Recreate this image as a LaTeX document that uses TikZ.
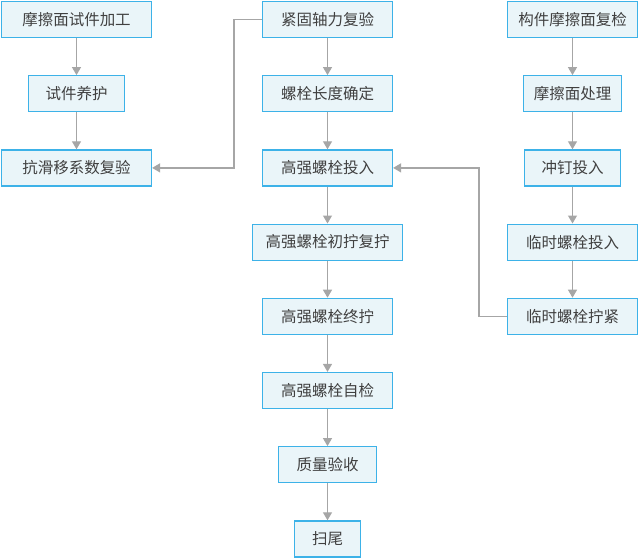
\documentclass[tikz,border=0pt]{standalone}
\usepackage{fontspec}
\newfontfamily\cjk{Noto Sans CJK SC}
\usetikzlibrary{positioning,arrows.meta}
\definecolor{boxfill}{HTML}{EAF5F9}
\definecolor{boxline}{HTML}{3DB2E8}
\definecolor{linkgray}{HTML}{A6A6A6}
\definecolor{textgray}{HTML}{404040}
\begin{document}
\begin{tikzpicture}[x=1pt,y=1pt,node distance=37pt,
  every node/.style={font=\cjk\fontsize{15.5}{18}\selectfont},
  stepbox/.style={draw=boxline,fill=boxfill,line width=1.2pt,minimum height=36pt,inner sep=0pt,text=textgray},
  link/.style={draw=linkgray,line width=1.2pt,-{Triangle[length=8pt,width=9pt]}}]
\useasboundingbox (0,0) rectangle (640,-557);
% left column: specimen checks
\node[stepbox,minimum width=150pt] (spec) at (76.5,-19.5) {摩擦面试件加工};
\node[stepbox,minimum width=96pt,below=of spec] (cure) {试件养护};
\node[stepbox,minimum width=150pt,below=of cure] (slip) {抗滑移系数复验};
% middle column: main bolt flow
\node[stepbox,minimum width=130pt] (axial) at (327.5,-19.5) {紧固轴力复验};
\node[stepbox,minimum width=130pt,below=of axial] (length) {螺栓长度确定};
\node[stepbox,minimum width=130pt,below=of length] (hsb) {高强螺栓投入};
\node[stepbox,minimum width=150pt,below=of hsb] (init) {高强螺栓初拧复拧};
\node[stepbox,minimum width=130pt,below=of init] (final) {高强螺栓终拧};
\node[stepbox,minimum width=130pt,below=of final] (self) {高强螺栓自检};
\node[stepbox,minimum width=98pt,below=of self] (accept) {质量验收};
\node[stepbox,minimum width=66pt,below=of accept] (finish) {扫尾};
% right column: member preparation
\node[stepbox,minimum width=130pt] (member) at (572.5,-19.5) {构件摩擦面复检};
\node[stepbox,minimum width=98pt,below=of member] (treat) {摩擦面处理};
\node[stepbox,minimum width=96pt,below=of treat] (pin) {冲钉投入};
\node[stepbox,minimum width=130pt,below=of pin] (temp) {临时螺栓投入};
\node[stepbox,minimum width=130pt,below=of temp] (tight) {临时螺栓拧紧};
% connectors
\draw[link] (spec) -- (cure);
\draw[link] (cure) -- (slip);
\draw[link] (axial) -- (length);
\draw[link] (length) -- (hsb);
\draw[link] (hsb) -- (init);
\draw[link] (init) -- (final);
\draw[link] (final) -- (self);
\draw[link] (self) -- (accept);
\draw[link] (accept) -- (finish);
\draw[link] (member) -- (treat);
\draw[link] (treat) -- (pin);
\draw[link] (pin) -- (temp);
\draw[link] (temp) -- (tight);
\draw[link] (axial.west) -- ++(-28,0) |- (slip.east);
\draw[link] (tight.west) -- ++(-28,0) |- (hsb.east);
\end{tikzpicture}
\end{document}
